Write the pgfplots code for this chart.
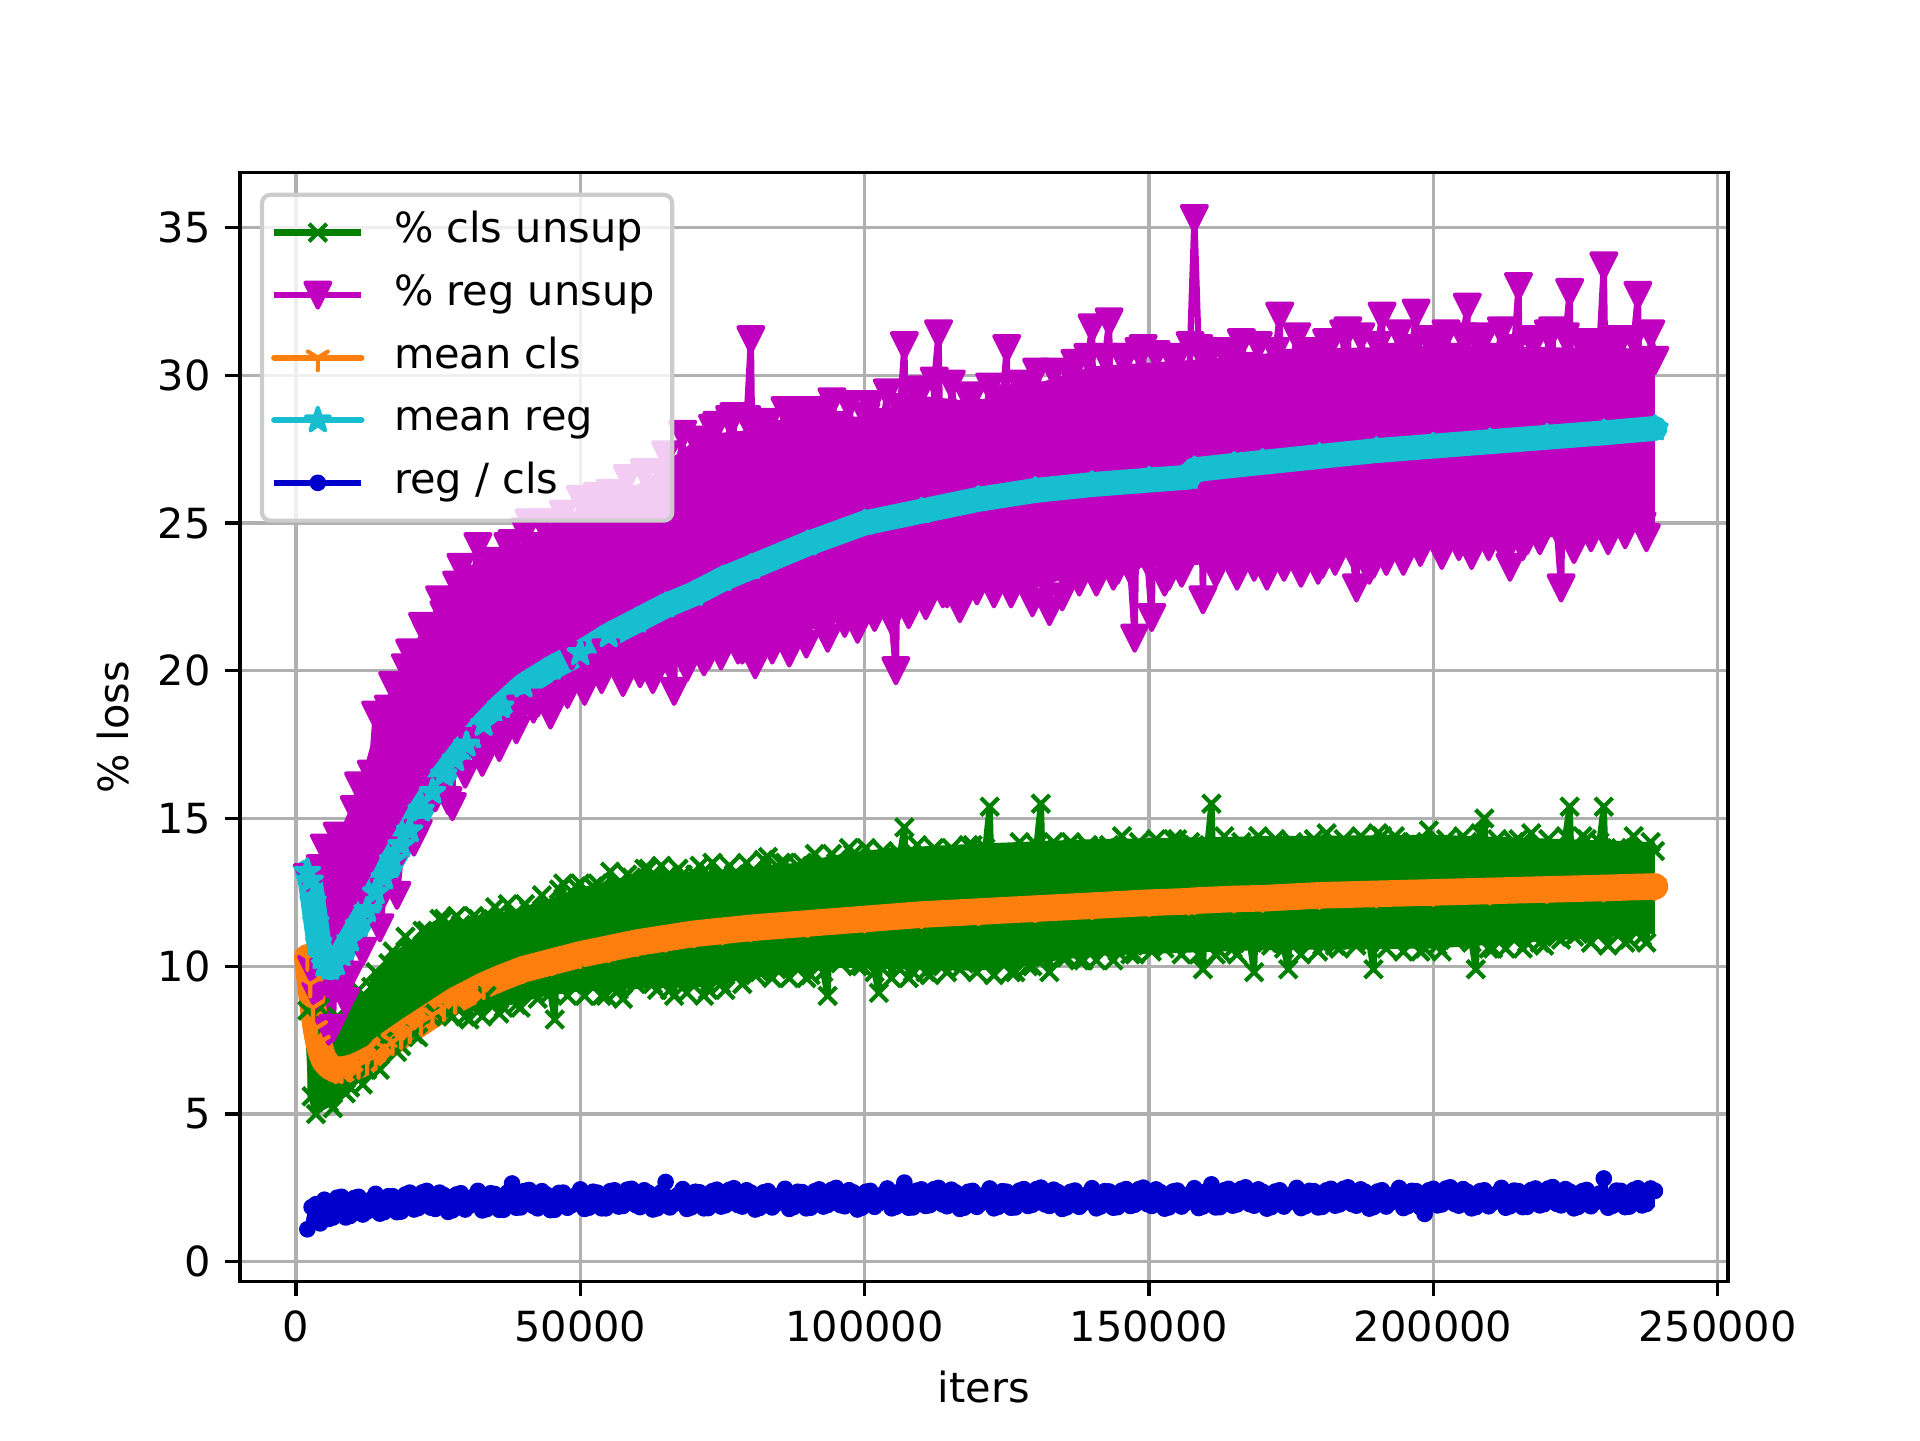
\documentclass[border=0pt]{standalone}
\usepackage{fontspec}
\setmainfont{DejaVu Sans}
\usepackage{pgfplots}
\pgfplotsset{compat=1.18}
\usepackage{pgfplotstable}

\definecolor{mplg}{RGB}{0,128,0}
\definecolor{mplm}{RGB}{191,0,191}
\definecolor{mplo}{RGB}{255,127,14}
\definecolor{mplc}{RGB}{23,190,207}
\definecolor{mplb}{RGB}{0,0,205}
\definecolor{mplgrid}{RGB}{176,176,176}
\definecolor{mplframe}{RGB}{204,204,204}

\pgfdeclareplotmark{mplv}{%
 \pgfpathmoveto{\pgfqpoint{0pt}{-\pgfplotmarksize}}%
 \pgfpathlineto{\pgfqpoint{-\pgfplotmarksize}{\pgfplotmarksize}}%
 \pgfpathlineto{\pgfqpoint{\pgfplotmarksize}{\pgfplotmarksize}}%
 \pgfpathclose\pgfusepathqfillstroke}
\pgfdeclareplotmark{mpltri}{%
 \pgfpathmoveto{\pgfpointorigin}\pgfpathlineto{\pgfqpoint{0pt}{-\pgfplotmarksize}}%
 \pgfpathmoveto{\pgfpointorigin}\pgfpathlineto{\pgfqpoint{0.8\pgfplotmarksize}{0.5\pgfplotmarksize}}%
 \pgfpathmoveto{\pgfpointorigin}\pgfpathlineto{\pgfqpoint{-0.8\pgfplotmarksize}{0.5\pgfplotmarksize}}%
 \pgfusepathqstroke}
\pgfdeclareplotmark{mplstar}{%
 \pgfpathmoveto{\pgfqpointpolar{90}{\pgfplotmarksize}}%
 \pgfpathlineto{\pgfqpointpolar{126}{0.382\pgfplotmarksize}}%
 \pgfpathlineto{\pgfqpointpolar{162}{\pgfplotmarksize}}%
 \pgfpathlineto{\pgfqpointpolar{198}{0.382\pgfplotmarksize}}%
 \pgfpathlineto{\pgfqpointpolar{234}{\pgfplotmarksize}}%
 \pgfpathlineto{\pgfqpointpolar{270}{0.382\pgfplotmarksize}}%
 \pgfpathlineto{\pgfqpointpolar{306}{\pgfplotmarksize}}%
 \pgfpathlineto{\pgfqpointpolar{342}{0.382\pgfplotmarksize}}%
 \pgfpathlineto{\pgfqpointpolar{18}{\pgfplotmarksize}}%
 \pgfpathlineto{\pgfqpointpolar{54}{0.382\pgfplotmarksize}}%
 \pgfpathclose\pgfusepathqfillstroke}

\pgfplotsset{legimg/.style={legend image code/.code={%
  \draw[line width=1.5pt, fill opacity=1, mark repeat=2, mark phase=2]
    plot coordinates {(0pt,0pt) (10.5pt,0pt) (21pt,0pt)};}}}

\pgfplotstableread{
x cls reg ratio
2000 8.5 13.0 1.1
2750 5.6 9.9 1.85
3500 5.0 9.0 1.95
4250 8.6 13.3 1.3
5000 8.0 14.0 2.1
5750 5.4 7.8 1.45
6500 5.2 7.9 1.5
7250 8.3 14.4 2.17
8000 8.0 14.0 2.2
8750 5.7 8.8 1.5
9500 5.9 9.7 1.55
10250 8.7 15.3 2.16
11000 9.2 16.1 2.2
11750 6.0 10.5 1.6
12500 6.5 12.2 1.7
13250 9.3 16.5 2.11
14000 9.8 18.5 2.3
14750 6.5 11.3 1.63
15500 7.5 12.5 1.68
16250 10.1 18.7 2.22
17000 10.5 19.5 2.22
17750 7.1 12.4 1.68
18500 7.3 13.9 1.7
19250 11.0 20.1 2.28
20000 10.5 20.6 2.34
20750 7.7 14.2 1.77
21500 7.6 14.5 1.82
22250 11.2 21.5 2.35
23000 11.2 21.2 2.4
23750 8.3 15.9 1.83
24500 8.4 15.7 1.79
25250 11.6 22.4 2.34
26000 11.6 21.9 2.26
26750 8.4 15.6 1.69
27500 8.3 15.4 1.74
28250 11.7 22.9 2.28
29000 11.4 23.5 2.32
29750 8.3 16.5 1.77
30500 8.2 17.6 1.9
31250 11.7 23.1 2.21
32000 11.6 24.2 2.4
32750 8.3 16.9 1.74
33500 9.0 17.7 1.78
34250 11.6 23.7 2.32
35000 12.0 23.5 2.29
35750 8.4 17.4 1.76
36500 8.6 17.8 1.76
37250 12.1 24.2 2.35
38000 11.3 24.3 2.65
38750 8.7 18.0 1.83
39500 8.6 18.7 1.84
40250 12.1 24.7 2.4
41000 11.9 25.0 2.43
41750 9.1 18.7 1.89
42500 8.9 18.9 1.81
43250 12.4 25.0 2.39
44000 12.0 24.2 2.28
44750 9.1 18.5 1.75
45500 8.2 18.9 1.76
46250 12.6 25.0 2.33
47000 12.8 25.3 2.34
47750 9.0 19.2 1.83
48500 9.4 20.5 1.92
49250 12.7 24.9 2.26
50000 12.8 25.8 2.45
50750 9.0 19.3 1.79
51500 9.7 20.1 1.83
52250 12.7 25.4 2.37
53000 12.8 25.9 2.34
53750 9.0 19.7 1.81
54500 9.0 20.6 1.81
55250 13.2 26.0 2.39
56000 12.6 25.8 2.42
56750 9.2 20.0 1.87
57500 8.9 19.6 1.89
58250 13.1 26.5 2.44
59000 13.0 25.8 2.47
59750 9.4 20.3 1.92
60500 9.5 19.9 1.85
61250 13.3 26.7 2.42
62000 13.3 25.7 2.33
62750 9.4 19.7 1.77
63500 9.2 20.3 1.81
64250 13.4 26.7 2.35
65000 13.0 27.3 2.7
65750 9.2 20.2 1.84
66500 9.0 19.3 1.96
67250 13.3 26.8 2.27
68000 13.1 28.0 2.46
68750 9.1 20.1 1.79
69500 9.7 20.8 1.84
70250 13.1 27.8 2.37
71000 13.4 27.6 2.35
71750 9.0 20.3 1.81
72500 9.2 20.5 1.82
73250 13.5 28.2 2.39
74000 12.7 28.3 2.44
74750 9.4 20.5 1.87
75500 9.2 20.9 1.91
76250 13.4 28.5 2.44
77000 13.1 28.6 2.49
77750 9.7 20.7 1.92
78500 9.4 20.7 1.87
79250 13.5 28.5 2.42
80000 13.1 31.2 2.34
80750 9.7 20.2 1.77
81500 9.8 20.5 1.82
82250 13.6 28.2 2.35
83000 13.7 28.4 2.39
83750 9.6 20.7 1.84
84500 9.9 22.0 1.97
85250 13.5 28.0 2.27
86000 13.5 28.8 2.47
86750 9.6 20.6 1.79
87500 10.3 21.4 1.85
88250 13.4 28.4 2.37
89000 13.5 28.8 2.36
89750 9.6 20.9 1.81
90500 9.7 21.9 1.83
91250 13.8 28.8 2.39
92000 13.2 28.6 2.45
92750 9.8 21.4 1.87
93500 9.0 21.1 1.92
94250 13.8 29.1 2.44
95000 13.5 28.3 2.5
95750 10.1 21.9 1.92
96500 10.3 21.6 1.88
97250 14.0 29.0 2.42
98000 13.8 27.8 2.35
98750 10.0 21.4 1.77
99500 10.0 21.9 1.83
100250 14.0 28.6 2.37
101000 13.5 29.0 2.4
101750 9.8 21.8 1.86
102500 9.1 22.6 1.98
103250 13.9 28.4 2.29
104000 13.6 29.4 2.48
104750 9.6 21.7 1.81
105500 10.3 20.0 1.86
106250 13.8 28.9 2.39
107000 14.7 31.0 2.68
107750 9.6 21.9 1.83
108500 9.8 22.2 1.84
109250 14.1 29.4 2.41
110000 13.1 29.5 2.45
110750 9.8 22.2 1.89
111500 9.7 22.8 1.92
112250 14.0 29.8 2.46
113000 13.5 31.4 2.5
113750 10.0 22.6 1.94
114500 9.8 22.6 1.88
115250 14.0 29.7 2.44
116000 13.5 28.6 2.35
116750 9.9 22.1 1.79
117500 10.1 22.5 1.83
118250 14.1 29.2 2.37
119000 14.1 29.3 2.4
119750 9.8 22.7 1.86
120500 10.2 24.0 1.98
121250 14.0 28.7 2.29
122000 15.4 29.6 2.48
122750 9.7 22.6 1.81
123500 10.6 23.3 1.86
124250 13.8 29.2 2.39
125000 13.8 30.9 2.37
125750 9.8 22.6 1.83
126500 9.8 23.4 1.84
127250 14.2 29.7 2.41
128000 13.4 29.5 2.46
128750 10.0 22.7 1.89
129500 10.0 22.3 1.93
130250 14.1 30.1 2.46
131000 15.5 29.3 2.51
131750 10.3 23.0 1.94
132500 9.8 22.0 1.89
133250 14.2 30.1 2.44
134000 14.0 29.1 2.36
134750 10.3 22.5 1.79
135500 10.3 23.1 1.84
136250 14.2 30.0 2.37
137000 13.7 30.4 2.41
137750 10.2 23.0 1.86
138500 10.2 23.9 1.99
139250 14.1 30.6 2.29
140000 13.8 31.6 2.49
140750 10.2 23.0 1.81
141500 10.9 23.6 1.87
142250 14.0 30.6 2.39
143000 14.1 31.8 2.38
143750 10.2 23.2 1.83
144500 10.5 23.4 1.85
145250 14.4 30.6 2.41
146000 13.3 30.6 2.46
146750 10.4 23.4 1.89
147500 10.4 21.1 1.93
148250 14.2 30.8 2.46
149000 13.8 30.9 2.51
149750 10.7 23.7 1.95
150500 10.5 21.8 1.89
151250 14.3 30.7 2.45
152000 13.7 29.8 2.36
152750 10.6 23.0 1.8
153500 10.8 23.2 1.84
154250 14.3 30.5 2.38
155000 14.3 30.6 2.41
155750 10.4 23.3 1.87
156500 10.9 24.5 1.99
157250 14.2 31.0 2.3
158000 14.1 35.3 2.49
158750 10.4 30.9 1.82
159500 9.9 22.4 1.87
160250 14.0 30.5 2.4
161000 15.5 30.8 2.62
161750 10.4 23.3 1.84
162500 10.5 24.1 1.85
163250 14.4 30.8 2.42
164000 13.6 30.5 2.47
164750 10.6 23.5 1.9
165500 10.4 23.2 1.94
166250 14.2 31.1 2.47
167000 13.9 30.3 2.52
167750 10.8 23.9 1.95
168500 9.8 23.5 1.9
169250 14.4 31.0 2.45
170000 14.1 29.9 2.37
170750 10.8 23.2 1.8
171500 10.7 23.7 1.85
172250 14.3 30.8 2.38
173000 13.8 32.0 2.42
173750 10.6 23.5 1.87
174500 9.9 24.3 2.0
175250 14.2 30.4 2.3
176000 13.9 31.3 2.5
176750 10.4 23.3 1.82
177500 11.2 23.9 1.88
178250 14.1 30.8 2.4
179000 14.3 30.5 2.39
179750 10.5 23.4 1.84
180500 10.7 23.6 1.86
181250 14.5 31.1 2.42
182000 13.5 31.1 2.47
182750 10.7 23.7 1.9
183500 10.6 24.2 1.94
184250 14.3 31.4 2.47
185000 13.9 31.5 2.52
185750 10.9 24.0 1.95
186500 10.7 22.8 1.9
187250 14.4 31.3 2.45
188000 13.8 30.3 2.37
188750 10.8 23.4 1.8
189500 9.9 23.6 1.85
190250 14.5 31.0 2.38
191000 14.4 32.0 2.42
191750 10.6 23.7 1.87
192500 11.0 25.0 2.0
193250 14.4 30.6 2.3
194000 14.2 31.4 2.5
194750 10.5 23.7 1.82
195500 11.3 24.5 1.88
196250 14.2 30.9 2.4
197000 14.1 32.1 2.39
197750 10.5 24.0 1.84
198500 10.6 24.9 1.62
199250 14.6 31.2 2.42
200000 13.7 30.9 2.47
200750 10.7 24.3 1.91
201500 10.5 23.9 1.94
202250 14.3 31.4 2.48
203000 14.0 30.6 2.52
203750 10.9 24.6 1.96
204500 11.0 24.2 1.9
205250 14.4 31.3 2.46
206000 14.2 32.3 2.37
206750 10.8 23.9 1.81
207500 9.9 24.4 1.85
208250 14.5 31.0 2.39
209000 15.0 31.3 2.42
209750 10.6 24.2 1.88
210500 10.6 25.0 2.0
211250 14.3 30.6 2.31
212000 14.0 31.5 2.5
212750 10.6 24.0 1.83
213500 11.3 23.5 1.88
214250 14.2 30.9 2.41
215000 14.3 33.0 2.39
215750 10.6 24.2 1.85
216500 10.8 24.4 1.86
217250 14.5 31.2 2.43
218000 13.5 31.2 2.48
218750 10.8 24.4 1.91
219500 10.7 24.9 1.95
220250 14.3 31.4 2.48
221000 13.9 31.5 2.53
221750 11.0 24.8 1.96
222500 10.9 22.8 1.91
223250 14.4 31.3 2.46
224000 15.4 32.8 2.38
224750 11.0 24.1 1.81
225500 11.1 24.4 1.86
226250 14.4 31.0 2.39
227000 14.3 31.1 2.43
227750 10.8 24.5 1.88
228500 11.2 25.8 2.01
229250 14.2 31.0 2.31
230000 15.4 33.7 2.82
230750 10.7 24.4 1.83
231500 11.5 25.2 1.89
232250 14.0 30.9 2.41
233000 14.0 31.2 2.4
233750 10.8 24.6 1.85
234500 10.9 25.4 1.87
235250 14.4 31.2 2.43
236000 13.6 32.7 2.49
236750 11.0 24.9 1.91
237500 10.8 24.5 1.96
238250 14.2 31.4 2.48
239000 13.9 30.5 2.4
}\datatab

\pgfplotstableread{
x mcls mreg
2000 10.3 13.2
2500 9.4 12.9
3000 8.6 12.2
3500 7.9 11.5
4000 7.4 10.8
4500 7.05 10.3
5000 6.8 10.05
6000 6.6 9.95
7000 6.5 10.1
8000 6.5 10.4
9500 6.55 10.9
11000 6.65 11.4
12500 6.8 11.9
14000 6.95 12.5
15500 7.25 13.0
17000 7.45 13.6
18500 7.65 14.1
20000 7.85 14.6
22000 8.1 15.3
24000 8.35 15.9
26000 8.6 16.5
28000 8.85 17.0
30000 9.05 17.5
33000 9.35 18.2
36000 9.6 18.8
40000 9.9 19.5
45000 10.15 20.1
50000 10.4 20.6
55000 10.6 21.2
60000 10.8 21.7
65000 10.95 22.2
70000 11.1 22.6
75000 11.2 23.1
80000 11.3 23.5
90000 11.45 24.3
100000 11.6 25.0
110000 11.75 25.4
120000 11.85 25.8
130000 11.95 26.1
140000 12.05 26.3
150000 12.15 26.45
157000 12.2 26.55
158000 12.22 26.8
165000 12.28 26.95
170000 12.3 27.05
180000 12.4 27.25
190000 12.45 27.45
200000 12.5 27.6
210000 12.55 27.75
220000 12.6 27.9
230000 12.65 28.05
239000 12.7 28.2
}\meantab

\begin{document}
\begin{tikzpicture}
\path[use as bounding box] (-0.8in,-0.528in) rectangle (5.6in,4.272in);
\begin{axis}[
  scale only axis, width=4.96in, height=3.696in,
  at={(0,0)}, anchor=south west,
  xmin=-9850, xmax=251850, ymin=-0.67, ymax=36.85,
  xtick={0,50000,100000,150000,200000,250000},
  ytick={0,5,10,15,20,25,30,35},
  scaled x ticks=false, scaled y ticks=false,
  /pgf/number format/fixed,
  /pgf/number format/precision=0,
  /pgf/number format/1000 sep={},
  /pgf/number format/assume math mode=true,
  grid=major,
  major grid style={color=mplgrid, line width=0.8pt},
  axis line style={line width=0.8pt},
  tick align=outside, tick pos=left,
  major tick length=3.5pt,
  every tick/.style={black, line width=0.8pt},
  tick label style={font=\fontsize{10}{12}\selectfont},
  label style={font=\fontsize{10}{12}\selectfont},
  xlabel={iters}, ylabel={\% loss},
  legend cell align=left,
  legend style={at={(0.0134,0.982)}, anchor=north west,
    font=\fontsize{10}{12}\selectfont,
    draw=mplframe, line width=1pt, rounded corners=2pt,
    fill=white, fill opacity=0.8, draw opacity=1, text opacity=1,
    inner xsep=2.2pt, inner ysep=4.1pt, row sep=5.07pt,
    nodes={inner sep=0pt, text height=7.5pt, text depth=2.5pt},
    /tikz/every odd column/.append style={column sep=7.1pt}},
]
% core of the dense cls band
\addplot[forget plot, draw=none, fill=mplg] coordinates {
(2000,8.8)(3500,8.5)(5000,8.2)(6500,8.1)(8000,8.25)(9500,8.5)(11000,8.85)(12500,9.2)(14000,9.7)(15500,10.2)(17000,10.45)(20000,10.85)(23000,11.3)(26000,11.45)(32000,11.65)(38000,11.9)(44000,12.25)(50000,12.65)(56000,12.95)(62000,13.15)(72000,13.2)(80000,13.35)(88000,13.5)(96000,13.8)(104000,14.0)(120000,14.15)(140000,14.3)(170000,14.4)(200000,14.45)(239000,14.2)
(239000,11.1)(200000,10.6)(170000,10.55)(140000,10.35)(120000,9.85)(104000,9.9)(96000,9.95)(88000,9.8)(80000,9.6)(72000,9.3)(62000,9.25)(50000,9.15)(44000,9.0)(38000,8.7)(32000,8.5)(26000,8.3)(23000,8.1)(20000,7.65)(17000,7.25)(14000,6.65)(11000,6.05)(8000,5.6)(6500,5.3)(5000,5.15)(3500,5.2)(2000,5.6)
} -- cycle;
\addplot[color=mplg, line width=1.5pt, line join=round, mark=x, mark size=3pt,
  mark options={line width=1pt}, legimg] table[x=x, y=cls] {\datatab};
\addlegendentry{\% cls unsup\kern2pt}
% core of the dense reg band
\addplot[forget plot, draw=none, fill=mplm] coordinates {
(2000,12.8)(5000,13.5)(8000,14.7)(11000,16.0)(14000,18.1)(17000,19.3)(20000,20.7)(23000,21.6)(26000,22.7)(29000,23.2)(32000,23.7)(38000,24.1)(44000,24.9)(50000,25.4)(56000,25.9)(62000,26.5)(68000,27.5)(72000,28.0)(80000,28.15)(90000,28.6)(100000,28.6)(110000,29.3)(120000,29.1)(130000,29.7)(140000,30.3)(160000,30.55)(180000,30.9)(200000,31.0)(239000,30.9)
(239000,25.0)(220000,24.5)(200000,24.4)(190000,23.9)(170000,23.7)(150000,23.5)(140000,23.4)(130000,22.8)(120000,23.0)(110000,22.3)(100000,21.9)(90000,21.35)(80000,20.7)(70000,20.6)(62000,20.15)(56000,20.1)(50000,19.7)(44000,19.0)(38000,18.1)(32000,17.3)(26000,16.1)(23000,15.7)(20000,14.3)(17000,12.7)(14000,11.7)(11000,10.7)(8000,9.3)(6500,8.4)(5000,8.5)(3500,9.2)(2000,10.0)
} -- cycle;
\addplot[color=mplm, line width=1.5pt, line join=round, mark=mplv, mark size=3pt,
  mark options={line width=1pt}, legimg] table[x=x, y=reg] {\datatab};
\addlegendentry{\% reg unsup\kern2pt}
\addplot[color=mplo, line width=6.4pt, line join=round, line cap=round, mark=mpltri, mark size=3pt,
  mark options={line width=1pt}, legimg] table[x=x, y=mcls] {\meantab};
\addlegendentry{mean cls}
\addplot[color=mplc, line width=6pt, line join=round, line cap=round, mark=mplstar, mark size=3pt,
  mark options={line width=1pt}, legimg] table[x=x, y=mreg] {\meantab};
\addlegendentry{mean reg}
% core of the dense ratio band
\addplot[forget plot, draw=none, fill=mplb] coordinates {
(2000,1.85)(3500,2.0)(5000,2.1)(8000,2.18)(11000,2.25)(14000,2.29)(20000,2.35)(30000,2.4)(50000,2.44)(100000,2.46)(150000,2.47)(200000,2.48)(239000,2.49)
(239000,1.85)(200000,1.84)(150000,1.83)(100000,1.82)(50000,1.8)(30000,1.76)(20000,1.71)(14000,1.64)(11000,1.58)(8000,1.51)(5000,1.41)(3500,1.31)(2000,1.15)
} -- cycle;
\addplot[color=mplb, line width=1.5pt, line join=round, mark=*, mark size=1.5pt,
  mark options={line width=1pt}, legimg] table[x=x, y=ratio] {\datatab};
\addlegendentry{reg / cls}
\end{axis}
\end{tikzpicture}
\end{document}
